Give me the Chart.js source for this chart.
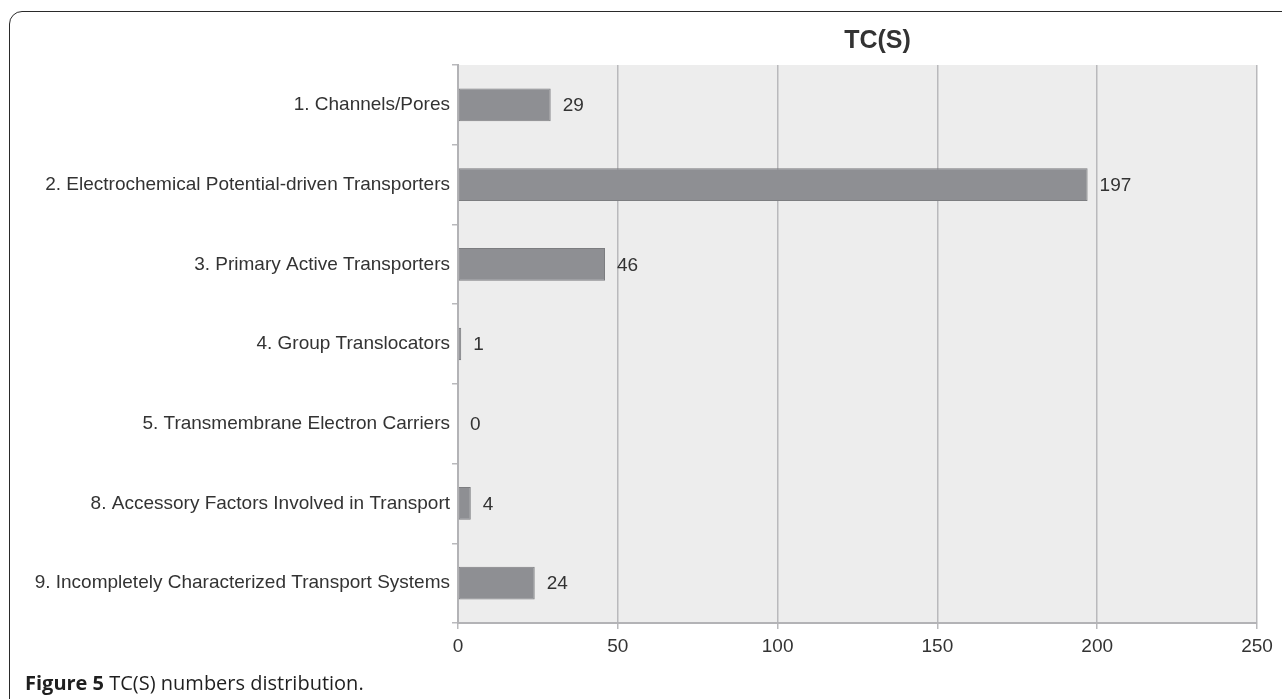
<!DOCTYPE html>
<html>
<head>
<meta charset="utf-8">
<script src="https://cdn.jsdelivr.net/npm/chart.js@4.4.1/dist/chart.umd.min.js"></script>
<style>
  html, body { margin: 0; padding: 0; background: #fff; overflow: hidden; }
  #wrap { position: relative; width: 1282px; height: 699px; }
  #frame { position: absolute; left: 9px; top: 11px; width: 1400px; height: 800px;
           border: 1.5px solid #2a2a2a; border-top-left-radius: 13px; box-sizing: border-box; }
  #cv { position: absolute; left: 0; top: 0; }
  #caption { position: absolute; left: 25px; top: 669px; font-family: "Open Sans", sans-serif;
             font-size: 20px; line-height: 27px; color: #1f1f1f; white-space: nowrap; }
  #caption b { font-weight: 700; }
</style>
</head>
<body>
<div id="wrap">
  <div id="frame"></div>
  <canvas id="cv" width="1282" height="699"></canvas>
  <div id="caption"><b>Figure 5</b> TC(S) numbers distribution.</div>
</div>
<script>
const categories = [
  "1. Channels/Pores",
  "2. Electrochemical Potential-driven Transporters",
  "3. Primary Active Transporters",
  "4. Group Translocators",
  "5. Transmembrane Electron Carriers",
  "8. Accessory Factors Involved in Transport",
  "9. Incompletely Characterized Transport Systems"
];
const values = [29, 197, 46, 1, 0, 4, 24];
const xTicks = [0, 50, 100, 150, 200, 250];
const chartTitle = "TC(S)";

const FONT = '"Liberation Sans", Arial, sans-serif';

const bgPlugin = {
  id: 'bg',
  beforeDraw(chart) {
    const a = chart.chartArea, c = chart.ctx;
    c.save();
    c.fillStyle = '#ededed';
    c.fillRect(a.left, a.top, a.right - a.left, a.bottom - a.top);
    c.restore();
  }
};
const labelPlugin = {
  id: 'vals',
  afterDatasetsDraw(chart) {
    const c = chart.ctx;
    const meta = chart.getDatasetMeta(0);
    c.save();
    c.font = '19px ' + FONT;
    c.fillStyle = '#333';
    c.textAlign = 'left';
    c.textBaseline = 'middle';
    meta.data.forEach((bar, i) => {
      c.fillText(String(values[i]), bar.x + 12, bar.y + 1);
    });
    c.restore();
  }
};
const titlePlugin = {
  id: 'ttl',
  afterDraw(chart) {
    const a = chart.chartArea, c = chart.ctx;
    c.save();
    c.font = 'bold 25px ' + FONT;
    c.fillStyle = '#333';
    c.textAlign = 'center';
    c.textBaseline = 'middle';
    c.fillText(chartTitle, a.left + (a.right - a.left) * 0.525, 41);
    c.restore();
  }
};

new Chart(document.getElementById('cv'), {
  type: 'bar',
  data: {
    labels: categories,
    datasets: [{
      data: values,
      backgroundColor: '#8e8f93',
      borderColor: '#7c7d80',
      borderWidth: 1,
      borderSkipped: false,
      barPercentage: 0.41,
      categoryPercentage: 1.0
    }]
  },
  options: {
    indexAxis: 'y',
    responsive: false,
    animation: false,
    layout: { padding: { top: 65, right: 25, left: 0, bottom: 0 } },
    plugins: { legend: { display: false }, tooltip: { enabled: false }, title: { display: false } },
    scales: {
      x: {
        min: 0, max: 250,
        afterBuildTicks(scale) { scale.ticks = xTicks.map(v => ({ value: v })); },
        afterFit(scale) { scale.height = 76; },
        grid: { color: '#b9b9bc', lineWidth: 1.5, tickLength: 6, drawOnChartArea: true },
        border: { color: '#b3b3b6', width: 2 },
        ticks: { color: '#333', font: { family: FONT, size: 19 }, padding: 6 }
      },
      y: {
        afterFit(scale) { scale.width = 458; },
        grid: { offset: true, drawOnChartArea: false, color: '#b9b9bc', lineWidth: 1.5, tickLength: 6 },
        border: { color: '#b3b3b6', width: 2 },
        ticks: { color: '#333', font: { family: FONT, size: 19 }, padding: 2 }
      }
    }
  },
  plugins: [bgPlugin, labelPlugin, titlePlugin]
});
</script>
</body>
</html>
